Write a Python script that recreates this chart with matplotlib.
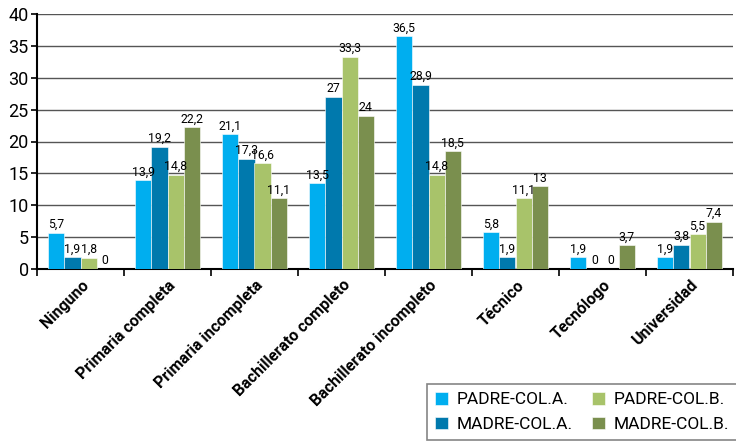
import matplotlib
matplotlib.use("Agg")
import matplotlib.pyplot as plt
import numpy as np

categories = ["Ninguno", "Primaria completa", "Primaria incompleta", "Bachillerato completo",
              "Bachillerato incompleto", "Técnico", "Tecnólogo", "Universidad"]
padre_a = [5.7, 13.9, 21.1, 13.5, 36.5, 5.8, 1.9, 1.9]
madre_a = [1.9, 19.2, 17.3, 27, 28.9, 1.9, 0, 3.8]
padre_b = [1.8, 14.8, 16.6, 33.3, 14.8, 11.1, 0, 5.5]
madre_b = [0, 22.2, 11.1, 24, 18.5, 13, 3.7, 7.4]
series_names = ["PADRE-COL.A.", "MADRE-COL.A.", "PADRE-COL.B.", "MADRE-COL.B."]
yticks = [0, 5, 10, 15, 20, 25, 30, 35, 40]

colors = ["#00AEEF", "#0079AD", "#A8C36A", "#7A8F4E"]
series = [padre_a, madre_a, padre_b, madre_b]

plt.rcParams["font.family"] = ["Roboto", "DejaVu Sans"]

def fmt(v):
    return ("%g" % v).replace(".", ",")

fig = plt.figure(figsize=(7.36, 4.42), dpi=100)
ax = fig.add_axes([37/736, 1-269/442, 696/736, 255/442])

x = np.arange(len(categories))
w = 0.185
handles = []
for i, (vals, c, name) in enumerate(zip(series, colors, series_names)):
    pos = x + (i - 1.5) * w
    b = ax.bar(pos, vals, width=w, color=c, label=name, zorder=3,
               edgecolor="white", linewidth=0.4)
    handles.append(b)
    for p, v in zip(pos, vals):
        ax.text(p, v + 0.25, fmt(v), ha="center", va="bottom", fontsize=8.8,
                zorder=4)

ax.set_xlim(-0.5, len(categories) - 0.5)
ax.set_ylim(0, 40)
ax.set_yticks(yticks)
ax.set_yticklabels([str(t) for t in yticks], fontsize=13)
ax.yaxis.grid(True, color="#555555", linewidth=1, zorder=0)
ax.set_axisbelow(True)

ax.set_xticks(np.arange(len(categories) + 1) - 0.5, minor=False)
ax.set_xticklabels([])
ax.set_xticks(x + 0.07, minor=True)
ax.set_xticklabels(categories, minor=True, rotation=45, ha="right", va="center",
                   rotation_mode="anchor", fontsize=11.5, fontweight="bold")
ax.tick_params(axis="x", which="minor", length=0, pad=10)
ax.tick_params(axis="x", which="major", length=5, width=1.2, direction="out")
ax.tick_params(axis="y", length=4, width=1.2, direction="out", pad=2)

for s in ["top", "right"]:
    ax.spines[s].set_visible(False)
ax.spines["left"].set_linewidth(1.5)
ax.spines["bottom"].set_linewidth(1.5)

leg = fig.legend(handles=handles, labels=series_names, ncol=2, loc="upper left",
                 bbox_to_anchor=(427/736, 1-384/442), fontsize=12.5, frameon=True,
                 fancybox=False, edgecolor="#666666", handlelength=0.75,
                 handleheight=0.75, columnspacing=1.1, borderpad=0.45,
                 labelspacing=0.55, handletextpad=0.5, borderaxespad=0)
leg.get_frame().set_linewidth(1.2)

fig.savefig("out.png", dpi=100)
